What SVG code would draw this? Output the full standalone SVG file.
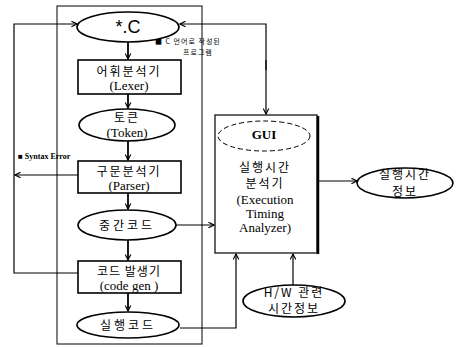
<svg xmlns="http://www.w3.org/2000/svg" width="469" height="347" viewBox="0 0 469 347">
<style>
.n{fill:#fff;stroke:#000;stroke-width:1.6}
.k{font-family:"Noto Sans CJK KR","Noto Sans",sans-serif;font-size:12px;fill:#000;text-anchor:middle}
.e{font-family:"Liberation Serif","Noto Sans CJK KR",serif;font-size:13px;fill:#000;text-anchor:middle}
.s{font-family:"Liberation Serif","Noto Sans CJK KR",serif;font-size:8px;fill:#000}
.sk{font-family:"Noto Sans CJK KR",sans-serif;font-size:7px;fill:#000}
.c{fill:none;stroke:#000;stroke-width:1.2}
.v{fill:none;stroke:#000;stroke-width:1.8}
</style>
<defs>
<marker id="a" viewBox="0 0 10 10" refX="9" refY="5" markerWidth="7" markerHeight="7" orient="auto" markerUnits="userSpaceOnUse">
<path d="M1,1 L9,5 L1,9" fill="none" stroke="#000" stroke-width="1.6"/>
</marker>
</defs>
<rect width="469" height="347" fill="#fff"/>
<rect x="57" y="6" width="145" height="338" fill="none" stroke="#000" stroke-width="1"/>
<g id="connectors">
<line class="v" x1="128" y1="42" x2="128" y2="59" marker-end="url(#a)"/>
<line class="v" x1="128" y1="94" x2="128" y2="108" marker-end="url(#a)"/>
<line class="v" x1="128" y1="141" x2="128" y2="160" marker-end="url(#a)"/>
<line class="v" x1="128" y1="193" x2="128" y2="209" marker-end="url(#a)"/>
<line class="v" x1="128" y1="240" x2="128" y2="260" marker-end="url(#a)"/>
<line class="v" x1="128" y1="293" x2="128" y2="311" marker-end="url(#a)"/>
<polyline class="c" points="78,273 14,273 14,24 77,24" marker-end="url(#a)"/>
<line class="c" x1="78" y1="175" x2="15" y2="175" marker-end="url(#a)"/>
<polyline class="c" points="266,70 266,24 180,24" marker-end="url(#a)"/>
<line class="c" x1="266" y1="60" x2="266" y2="114" marker-end="url(#a)"/>
<line class="c" x1="176" y1="225" x2="214" y2="225" marker-end="url(#a)"/>
<polyline class="c" points="180,328 236,328 236,254" marker-end="url(#a)"/>
<line class="c" x1="293" y1="285" x2="293" y2="254" marker-end="url(#a)"/>
<line class="c" x1="317" y1="181" x2="357" y2="181" marker-end="url(#a)"/>
</g>
<g id="src">
<ellipse class="n" cx="128" cy="27" rx="51" ry="15"/>
<text x="128" y="33" font-size="18" font-family="Liberation Sans, sans-serif" text-anchor="middle">*.C</text>
</g>
<g id="lexer">
<rect class="n" x="78" y="60" width="103" height="34"/>
<text class="k" x="129" y="76" font-size="14" letter-spacing="2">어휘분석기</text>
<text class="e" x="129" y="90">(Lexer)</text>
</g>
<g id="token">
<ellipse class="n" cx="127" cy="125" rx="48" ry="16"/>
<text class="k" x="127" y="122" letter-spacing="2">토큰</text>
<text class="e" x="127" y="137">(Token)</text>
</g>
<g id="parser">
<rect class="n" x="78" y="161" width="103" height="32"/>
<text class="k" x="129" y="176" font-size="14" letter-spacing="2">구문분석기</text>
<text class="e" x="129" y="190">(Parser)</text>
</g>
<g id="ir">
<ellipse class="n" cx="127" cy="225" rx="49" ry="15"/>
<text class="k" x="127" y="230" font-size="14" letter-spacing="3">중간코드</text>
</g>
<g id="codegen">
<rect class="n" x="78" y="261" width="103" height="32"/>
<text class="k" x="129" y="276" font-size="13" letter-spacing="1">코드 발생기</text>
<text class="e" x="129" y="290">(code gen )</text>
</g>
<g id="exe">
<ellipse class="n" cx="128" cy="325" rx="51" ry="13"/>
<text class="k" x="128" y="330" font-size="14" letter-spacing="3">실행코드</text>
</g>
<g id="analyzer">
<rect x="215" y="115" width="102" height="138" fill="#fff" stroke="#000" stroke-width="1.2"/>
<line x1="318" y1="116" x2="318" y2="254" stroke="#000" stroke-width="2.5"/>
<ellipse cx="264" cy="136" rx="46" ry="15" fill="none" stroke="#000" stroke-width="1" stroke-dasharray="5,3"/>
<text class="e" x="264" y="139" font-size="8" font-weight="bold">GUI</text>
<text class="k" x="265" y="172" font-size="11" letter-spacing="2">실행시간</text>
<text class="k" x="265" y="188" font-size="11" letter-spacing="2">분석기</text>
<text class="e" x="265" y="204" font-size="12">(Execution</text>
<text class="e" x="265" y="218" font-size="12">Timing</text>
<text class="e" x="265" y="232" font-size="12">Analyzer)</text>
</g>
<g id="timeinfo">
<ellipse class="n" cx="405" cy="183" rx="48" ry="15" stroke-width="1.2"/>
<text class="k" x="405" y="179" font-size="11.5" letter-spacing="2">실행시간</text>
<text class="k" x="405" y="196" font-size="11.5" letter-spacing="2">정보</text>
</g>
<g id="hw">
<ellipse class="n" cx="294" cy="301" rx="51" ry="16" stroke-width="1.2"/>
<text class="k" x="294" y="297" font-size="10.5" letter-spacing="2">H/W 관련</text>
<text class="k" x="294" y="313" font-size="10.5" letter-spacing="2">시간정보</text>
</g>
<g id="labels">
<text class="sk" x="155" y="44" letter-spacing="1">■ C 언어로 작성된</text>
<text class="sk" x="183" y="55" letter-spacing="1">프로그램</text>
<text class="s" x="18" y="159" font-weight="bold">■ Syntax Error</text>
</g>
</svg>
